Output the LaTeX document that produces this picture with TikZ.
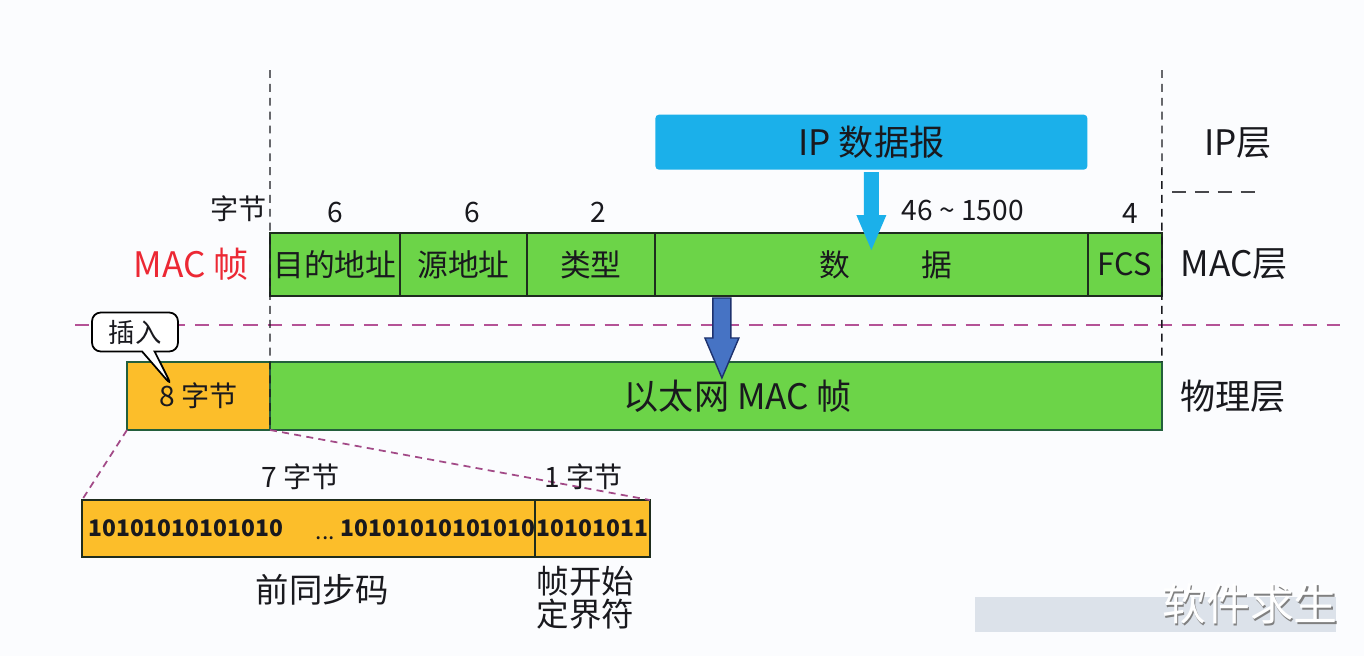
\documentclass[tikz,border=0pt]{standalone}
\usepackage{fontspec}
\setmainfont{Noto Sans CJK SC}
\usepackage{xcolor}
\usetikzlibrary{positioning}
\usetikzlibrary{shapes.callouts}

\definecolor{macGreen}{RGB}{108,212,72}
\definecolor{cellLine}{RGB}{30,45,30}
\definecolor{ethLine}{RGB}{35,95,60}
\definecolor{preOrange}{RGB}{252,190,42}
\definecolor{ipCyan}{RGB}{27,176,234}
\definecolor{ethBlue}{RGB}{70,115,196}
\definecolor{ethBlueLine}{RGB}{30,50,110}
\definecolor{layerPink}{RGB}{180,82,150}
\definecolor{macRed}{RGB}{236,40,52}
\definecolor{inkDark}{RGB}{25,25,30}
\definecolor{paper}{RGB}{251,252,254}
\definecolor{markGrey}{RGB}{200,210,222}

\newcommand\setfs[1]{\fontsize{#1}{#1}\selectfont}

\begin{document}
\begin{tikzpicture}[
  x=0.02cm, y=-0.02cm,
  every node/.style={text=inkDark},
  field/.style={draw=cellLine, fill=macGreen, line width=1.1pt, inner sep=0pt,
    outer sep=0pt, minimum height=1.26cm, font=\setfs{17.5pt}},
  ethfield/.style={draw=ethLine, fill=#1, line width=1.1pt, inner sep=0pt,
    outer sep=0pt, minimum height=1.36cm, font=\setfs{20pt}},
  bits/.style={draw=cellLine, fill=preOrange, line width=1pt, inner sep=0pt,
    outer sep=0pt, minimum height=1.14cm, font=\bfseries\setfs{13pt}},
  bitText/.style={inner sep=0pt, font=\bfseries\setfs{13pt}},
  count/.style={inner sep=0pt, font=\setfs{16pt}},
  layer/.style={font=\setfs{20pt}},
  ipBox/.style={fill=ipCyan, rounded corners=2pt, minimum height=1.1cm,
    minimum width=8.64cm, font=\setfs{20pt}},
  tip/.style={rectangle callout, draw=black, fill=white, line width=1pt,
    rounded corners=5pt, minimum width=1.72cm, minimum height=0.78cm,
    font=\setfs{15pt}},
  vguide/.style={draw=inkDark, line width=0.8pt, dash pattern=on 4.5pt off 3.4pt},
  hguide/.style={draw=inkDark!80, line width=1.2pt, dash pattern=on 8pt off 5pt},
  layerLine/.style={draw=layerPink, line width=1.3pt, dash pattern=on 8pt off 5.7pt},
  zoomLine/.style={draw=layerPink!90!black, line width=1pt, dash pattern=on 4pt off 3pt},
  ipArrow/.style={fill=ipCyan},
  ethArrow/.style={fill=ethBlue, draw=ethBlueLine, line width=0.8pt}
]
\useasboundingbox[fill=paper] (0,0) rectangle (1364,656);

% layer boundaries
\coordinate (pL) at (75,325);
\coordinate (pR) at (1340,325);
\draw[layerLine] (pL) -- (pR);
\coordinate (sL) at (1172,192);
\coordinate (sR) at (1258,192);
\draw[hguide] (sL) -- (sR);

% MAC frame
\node[field, minimum width=2.6cm, anchor=north west] (dst) at (270,233) {目的地址};
\node[field, minimum width=2.54cm, right=0pt of dst] (src) {源地址};
\node[field, minimum width=2.56cm, right=0pt of src] (type) {类型};
\node[field, minimum width=8.66cm, right=0pt of type] (data) {\hspace*{0.58cm}数\hspace{1.44cm}据};
\node[field, minimum width=1.48cm, right=0pt of data] (fcs) {FCS};

\node[count, anchor=south east] at ([xshift=-0.06cm, yshift=0.22cm]dst.north west) {字节};
\node[count, above=0.2cm of dst] {6};
\node[count, above=0.2cm of src, xshift=0.17cm] {6};
\node[count, above=0.2cm of type, xshift=0.14cm] {2};
\node[count, above=0.24cm of data, xshift=1.83cm] {46 \textasciitilde{} 1500};
\node[count, above=0.18cm of fcs, xshift=0.1cm] {4};
\node[layer, text=macRed, left=0.3cm of dst] (macName) {MAC 帧};

% IP datagram
\node[ipBox, above=1.26cm of data] (ip) {IP 数据报};
\fill[ipArrow] (ip.south) ++(-7.5,2) -- ++(15,0) -- ++(0,43) -- ++(7.5,0)
  -- ++(-15,35) -- ++(-15,-35) -- ++(7.5,0) -- cycle;

% physical layer
\node[ethfield=preOrange, minimum width=2.86cm, font=\setfs{16pt}, anchor=north west] (pream) at (127,362) {8 字节};
\node[ethfield=macGreen, minimum width=17.84cm, right=0pt of pream] (frame) {\hspace*{0.88cm}以太网 MAC 帧};

\coordinate (bTop) at ([xshift=1.34cm]data.south west);
\filldraw[ethArrow] (bTop) ++(-9,2) -- ++(18,0) -- ++(0,40) -- ++(8,0)
  -- ++(-17,40) -- ++(-17,-40) -- ++(8,0) -- cycle;

\node[tip, callout absolute pointer={(172,386)}] (ins) at (135,332) {插入};

% guides
\coordinate (lTop) at (270,70);
\coordinate (rTop) at (1162,70);
\draw[vguide] (lTop) -- (frame.south west);
\draw[vguide] (rTop) -- (frame.north east);

% layer names
\node[layer] (ipL) at (1238,143) {IP层};
\node[layer, right=0.25cm of fcs] (macL) {MAC层};
\node[layer, right=0.25cm of frame] (phyL) {物理层};

% preamble detail
\node[bits, minimum width=9.06cm, anchor=north west] (pre) at (82,500) {};
\node[bits, minimum width=2.3cm, right=0pt of pre] (sfd) {10101011};
\node[bitText, anchor=west] (bitsL) at ([xshift=0.12cm]pre.west) {10101010101010};
\node[bitText, anchor=east] (bitsR) at ([xshift=0.02cm]pre.east) {10101010101010};
\node[inner sep=0pt, font=\setfs{13pt}] (dots) at ([xshift=0.34cm, yshift=-0.2cm]pre.center) {...};
\draw[zoomLine] (pream.south west) -- (pre.north west);
\draw[zoomLine] (pream.south east) -- (sfd.north east);

\node[count, above=0.2cm of pre, xshift=-0.16cm] {7 字节};
\node[count, above=0.2cm of sfd, xshift=-0.18cm] {1 字节};
\node[font=\setfs{19pt}, below=0.22cm of pre, xshift=0.28cm] (preName) {前同步码};
\node[font=\fontsize{18.5pt}{19pt}\selectfont, align=center, below=0.05cm of sfd, xshift=-0.14cm] (sfdName) {帧开始\\定界符};

% watermark
\fill[markGrey, opacity=0.6] (975,597) rectangle (1336,632);
\node[font=\setfs{25pt}, text=gray] (markShadow) at (1251.5,605.5) {软件求生};
\node[font=\setfs{25pt}, text=white] (mark) at (1250,604) {软件求生};
\end{tikzpicture}
\end{document}
